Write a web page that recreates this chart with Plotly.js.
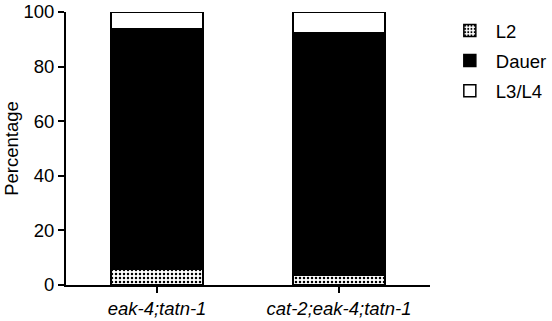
<!DOCTYPE html>
<html>
<head>
<meta charset="utf-8">
<script src="https://cdn.plot.ly/plotly-3.0.1.min.js"></script>
<style>html,body{margin:0;padding:0;background:#fff;}#chart{width:552px;height:321px;}</style>
</head>
<body>
<div id="chart"></div>
<script>
const categories = ['<i>eak-4;tatn-1</i>', '<i>cat-2;eak-4;tatn-1</i>'];
const l2Values = [5.7, 3.4];
const dauerValues = [88.2, 89.0];
const l3l4Values = [6.1, 7.6];
const yTicks = [0, 20, 40, 60, 80, 100];

const fnt = {family: 'Liberation Sans, Arial, sans-serif', size: 18.5, color: '#000'};
const line = {color: '#000', width: 1.5};

const traces = [
  {type: 'bar', name: 'L2', x: categories, y: l2Values, width: 0.505,
   marker: {color: '#fff', line: line, pattern: {shape: '.', fgcolor: '#000', bgcolor: '#fff', size: 4, solidity: 0.3}},
   legendgroup: 'a'},
  {type: 'bar', name: 'Dauer', x: categories, y: dauerValues, width: 0.505,
   marker: {color: '#000', line: line}, legendgroup: 'b'},
  {type: 'bar', name: 'L3/L4', x: categories, y: l3l4Values, width: 0.505,
   marker: {color: '#fff', line: line}, legendgroup: 'c'}
];

const layout = {
  width: 552, height: 321,
  margin: {l: 66, r: 122, t: 12, b: 36, pad: 0, autoexpand: false},
  barmode: 'stack',
  plot_bgcolor: '#fff', paper_bgcolor: '#fff',
  font: fnt,
  showlegend: true,
  legend: {x: 1.038, y: 1.0, xanchor: 'left', yanchor: 'top', traceorder: 'grouped', tracegroupgap: 3,
           itemwidth: 42, font: fnt, bgcolor: 'rgba(0,0,0,0)'},
  xaxis: {range: [-0.5, 1.5], showline: true, linecolor: '#000', linewidth: 2,
          ticks: 'outside', ticklen: 6, tickwidth: 2, tickcolor: '#000', automargin: false,
          showgrid: false, zeroline: false, tickfont: fnt, fixedrange: true},
  yaxis: {range: [0, 100], tickvals: yTicks, ticktext: yTicks.map(String), automargin: false,
          showline: true, linecolor: '#000', linewidth: 2,
          ticks: 'outside', ticklen: 6, tickwidth: 2, tickcolor: '#000',
          showgrid: false, zeroline: false, tickfont: fnt,
          title: {text: 'Percentage', font: fnt, standoff: 0}}
};

Plotly.newPlot('chart', traces, layout, {displayModeBar: false, staticPlot: true});
</script>
</body>
</html>
